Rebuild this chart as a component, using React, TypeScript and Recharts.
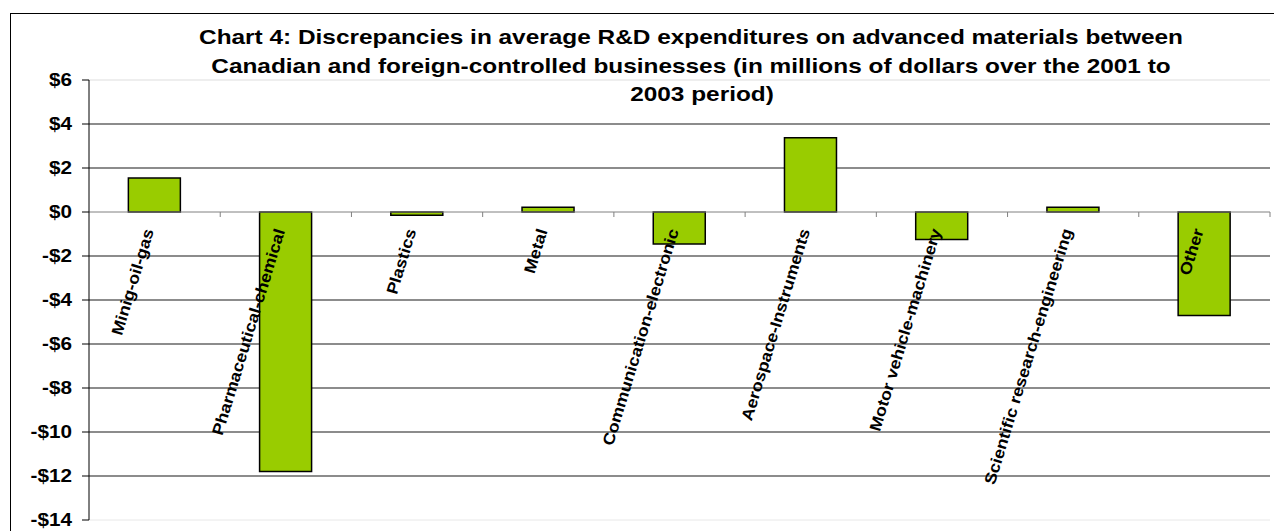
import React from 'react';
import { BarChart, Bar, XAxis, YAxis, CartesianGrid, ReferenceLine } from 'recharts';

const industries = [
  'Minig-oil-gas',
  'Pharmaceutical-chemical',
  'Plastics',
  'Metal',
  'Communication-electronic',
  'Aerospace-Instruments',
  'Motor vehicle-machinery',
  'Scientific research-engineering',
  'Other',
];
const discrepancies = [1.55, -11.8, -0.15, 0.22, -1.45, 3.38, -1.25, 0.22, -4.7];
const yTicks = [-14, -12, -10, -8, -6, -4, -2, 0, 2, 4, 6];
const gridValues = [-12, -10, -8, -6, -4, -2, 2, 4];
const titleLines = [
  'Chart 4: Discrepancies in average R&D expenditures on advanced materials between',
  'Canadian and foreign-controlled businesses (in millions of dollars over the 2001 to',
  '2003 period)',
];

const data = industries.map((industry, i) => ({ industry, value: discrepancies[i] }));

const font = '"Liberation Sans", Arial, sans-serif';

const money = (v: number) => (v < 0 ? '-$' : '$') + Math.abs(v);

// the original text is drawn a bit wider than Arial, so stretch it horizontally
const YTick = (props: any) => {
  const { x, y, payload } = props;
  return (
    <text
      transform={`translate(${x},${y}) scale(1.15,1)`}
      dy="0.35em"
      textAnchor="end"
      fontFamily={font}
      fontWeight="bold"
      fontSize={18}
      fill="#000"
    >
      {money(payload.value)}
    </text>
  );
};

// axis line at zero with category ticks and rotated category labels
const ZeroAxis = (props: any) => {
  const { x1, y1, x2 } = props;
  const step = (x2 - x1) / industries.length;
  return (
    <g>
      <line x1={x1} y1={y1} x2={x2} y2={y1} stroke="#808080" strokeWidth={1} />
      {industries.map((_, i) => (
        <line key={'t' + i} x1={x1 + step * (i + 1)} y1={y1} x2={x1 + step * (i + 1)} y2={y1 + 5} stroke="#808080" />
      ))}
      {industries.map((name, i) => {
        const cx = x1 + step * (i + 0.5) - 6;
        const ty = y1 + 17;
        return (
          <text
            key={'l' + i}
            dy="0.35em"
            textAnchor="end"
            transform={`translate(${cx},${ty}) rotate(-73) scale(1.12,1)`}
            fontFamily={font}
            fontWeight="bold"
            fontSize={16}
            fill="#000"
          >
            {name}
          </text>
        );
      })}
    </g>
  );
};

export default function App() {
  return (
    <div style={{ position: 'absolute', left: 0, top: 0, width: 1274, height: 531, overflow: 'hidden', background: '#fff' }}>
      <div
        style={{
          position: 'absolute',
          left: 10,
          top: 13,
          width: 1300,
          height: 600,
          border: '1px solid #000',
        }}
      />
      <BarChart
        width={1274}
        height={531}
        data={data}
        margin={{ top: 80, right: 4, bottom: 11, left: 9 }}
        barCategoryGap="30%"
      >
        <CartesianGrid horizontal vertical={false} horizontalValues={gridValues} stroke="#000" strokeOpacity={0.9} />
        <ReferenceLine y={6} stroke="#dddddd" />
        <ReferenceLine y={-14} stroke="#e8e8e8" />
        <XAxis dataKey="industry" hide />
        <YAxis
          domain={[-14, 6]}
          ticks={yTicks}
          interval={0}
          width={80}
          axisLine={{ stroke: '#000' }}
          tickLine={{ stroke: '#000' }}
          tickSize={7}
          tickMargin={10}
          tick={<YTick />}
        />
        <Bar dataKey="value" fill="#99CC00" stroke="#000" strokeWidth={1.5} isAnimationActive={false} />
        <ReferenceLine y={0} shape={ZeroAxis} />
      </BarChart>
      <svg
        width={1274}
        height={531}
        style={{ position: 'absolute', left: 0, top: 0, pointerEvents: 'none' }}
      >
        {titleLines.map((line, i) => (
          <text
            key={i}
            transform={`translate(${i === 2 ? 702 : 691},${44 + i * 28.5}) scale(1.22,1)`}
            textAnchor="middle"
            fontFamily={font}
            fontWeight="bold"
            fontSize={20}
            fill="#000"
          >
            {line}
          </text>
        ))}
      </svg>
    </div>
  );
}
